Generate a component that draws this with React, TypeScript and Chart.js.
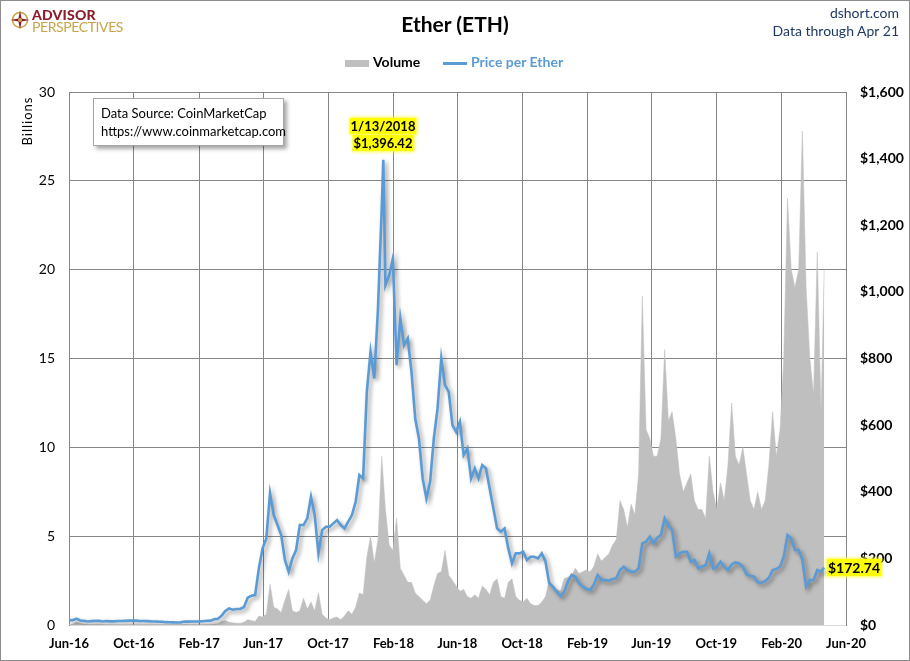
import React, { useEffect, useRef } from "react";
import { Chart, registerables } from "chart.js";

Chart.register(...registerables);

// ---------------- data ----------------
const weekStart = "2016-06-01"; // first weekly observation, one value every 7 days

const priceWeekly = [
  14, 14.5, 19, 13.5, 12.5, 10.5, 11.5, 12.5, 12.8, 10.5,
  11.8, 11, 11, 12, 11.8, 12.5, 13, 13.2, 13, 12,
  12, 11.5, 10.8, 10.5, 10, 9.8, 8.5, 8.2, 8, 7.5,
  8, 10.5, 10, 10.5, 10.6, 10.8, 11.3, 12.8, 13, 17,
  19, 28, 42, 50, 46, 48, 48, 54, 82, 88,
  90, 170, 230, 260, 395, 330, 300, 270, 195, 160,
  200, 225, 300, 300, 320, 385, 330, 215, 285, 295,
  295, 305, 315, 300, 290, 310, 330, 370, 450, 440,
  700, 820, 740, 950, 1250, 1020, 1050, 1100, 780, 920,
  840, 860, 760, 620, 560, 440, 380, 430, 560, 650,
  800, 720, 700, 600, 580, 610, 510, 530, 440, 470,
  440, 480, 470, 410, 350, 290, 280, 290, 230, 185,
  215, 215, 220, 195, 205, 205, 200, 215, 190, 125,
  115, 100, 87, 100, 130, 150, 145, 125, 115, 108,
  105, 122, 150, 135, 135, 133, 138, 140, 165, 175,
  165, 160, 160, 170, 245, 250, 265, 245, 262, 270,
  320, 300, 285, 205, 215, 220, 220, 190, 195, 170,
  175, 180, 215, 170, 175, 190, 175, 165, 182, 188,
  185, 175, 152, 148, 145, 128, 127, 132, 142, 165,
  168, 175, 205, 270, 260, 225, 225, 195, 115, 135,
  135, 165, 160,
];

const volumeWeekly = [
  0.05, 0.06, 0.15, 0.1, 0.05, 0.04, 0.03, 0.03, 0.04, 0.03,
  0.02, 0.02, 0.02, 0.02, 0.02, 0.02, 0.02, 0.02, 0.02, 0.02,
  0.02, 0.02, 0.02, 0.02, 0.02, 0.02, 0.02, 0.02, 0.02, 0.02,
  0.02, 0.03, 0.02, 0.02, 0.02, 0.02, 0.02, 0.03, 0.03, 0.05,
  0.08, 0.2, 0.25, 0.15, 0.12, 0.1, 0.1, 0.15, 0.3, 0.25,
  0.2, 0.5, 0.45, 0.6, 2.3, 1.0, 0.9, 0.7, 1.4, 2.0,
  0.8, 0.7, 0.8, 1.5, 0.9, 1.3, 0.8, 1.8, 0.6, 0.4,
  0.3, 0.4, 0.45, 0.3, 0.5, 0.8, 0.6, 1.0, 1.8, 1.7,
  3.8, 5.0, 3.5, 4.8, 9.5, 6.5, 4.5, 4.2, 6.0, 3.2,
  2.8, 2.4, 2.4, 1.8, 1.6, 1.4, 1.2, 1.4, 2.2, 2.9,
  3.0, 4.2, 2.8, 2.5, 2.2, 1.9, 2.0, 1.6, 1.5, 1.7,
  1.5, 2.2, 2.0, 1.7, 2.4, 2.6, 1.6, 1.5, 2.4, 2.6,
  1.6, 1.4, 1.3, 1.5, 1.2, 1.1, 1.1, 1.3, 1.6, 2.5,
  2.2, 2.0, 1.9, 2.6, 2.7, 2.8, 3.2, 2.9, 3.0, 3.1,
  3.0, 3.3, 4.0, 3.6, 3.8, 4.0, 4.5, 4.8, 7.0, 6.5,
  5.5, 6.8, 6.2, 8.5, 18.5, 11, 10.5, 9.5, 9.5, 10.5,
  15.5, 11.5, 12, 10.5, 8.5, 7.5, 8.0, 8.5, 7.0, 6.5,
  6.5, 6.0, 9.5, 7.5, 6.5, 8.0, 7.0, 9.0, 12.5, 9.5,
  9.0, 10.0, 8.5, 7.0, 6.5, 7.5, 6.5, 7.0, 9.0, 12,
  9.5, 11, 15, 24, 20, 19, 20, 27.8, 19, 15,
  13, 21, 12,
];

const peakDate = "2018-01-13";
const peakPrice = 1396.42;
const lastDate = "2020-04-21";
const lastPrice = 172.74;
const lastVolume = 20;

const xTickDates = [
  "2016-06-01", "2016-10-01", "2017-02-01", "2017-06-01", "2017-10-01",
  "2018-02-01", "2018-06-01", "2018-10-01", "2019-02-01", "2019-06-01",
  "2019-10-01", "2020-02-01", "2020-06-01",
];
const xTickLabels = [
  "Jun-16", "Oct-16", "Feb-17", "Jun-17", "Oct-17", "Feb-18", "Jun-18",
  "Oct-18", "Feb-19", "Jun-19", "Oct-19", "Feb-20", "Jun-20",
];
const volumeTicks = [0, 5, 10, 15, 20, 25, 30];
const priceTicks = [0, 200, 400, 600, 800, 1000, 1200, 1400, 1600];

// ---------------- helpers ----------------
const ORIGIN = Date.parse(xTickDates[0]);
const dayOf = (iso: string) => Math.round((Date.parse(iso) - ORIGIN) / 86400000);
const FONT = "Lato, 'Open Sans', sans-serif";

function weeklyPoints(values: number[]) {
  const s = dayOf(weekStart);
  return values.map((v, i) => ({ x: s + i * 7, y: v }));
}

const pricePoints = [
  ...weeklyPoints(priceWeekly),
  { x: dayOf(peakDate), y: peakPrice },
  { x: dayOf(lastDate), y: lastPrice },
].sort((a, b) => a.x - b.x);

const volumePoints = [
  ...weeklyPoints(volumeWeekly),
  { x: dayOf(lastDate), y: lastVolume },
].sort((a, b) => a.x - b.x);

const tickLabelByDay: Record<number, string> = {};
xTickDates.forEach((d, i) => (tickLabelByDay[dayOf(d)] = xTickLabels[i]));

const shadowPlugin = {
  id: "lineShadow",
  beforeDatasetDraw(chart: any, args: any) {
    if (args.index === 0) {
      const c = chart.ctx;
      c.save();
      c.shadowColor = "rgba(0,0,0,0.4)";
      c.shadowBlur = 4;
      c.shadowOffsetX = 2.5;
      c.shadowOffsetY = 2.5;
    }
  },
  afterDatasetDraw(chart: any, args: any) {
    if (args.index === 0) chart.ctx.restore();
  },
};

export default function App() {
  const ref = useRef<HTMLCanvasElement>(null);

  useEffect(() => {
    document.body.style.margin = "0";
    const chart = new Chart(ref.current as HTMLCanvasElement, {
      type: "line",
      data: {
        datasets: [
          {
            label: "Price per Ether",
            data: pricePoints,
            yAxisID: "y1",
            borderColor: "#5B9BD5",
            borderWidth: 2.6,
            pointRadius: 0,
            tension: 0,
            fill: false,
            order: 0,
          },
          {
            label: "Volume",
            data: volumePoints,
            yAxisID: "y",
            backgroundColor: "#BFBFBF",
            borderColor: "#BFBFBF",
            borderWidth: 0.5,
            pointRadius: 0,
            tension: 0,
            fill: "origin",
            order: 1,
          },
        ] as any,
      },
      options: {
        animation: false,
        responsive: false,
        layout: { padding: { top: 92, left: 0, right: 0, bottom: 0 } },
        plugins: { legend: { display: false }, tooltip: { enabled: false } },
        scales: {
          x: {
            type: "linear",
            min: dayOf(xTickDates[0]),
            max: dayOf(xTickDates[xTickDates.length - 1]),
            afterBuildTicks: (s: any) => {
              s.ticks = xTickDates.map((d) => ({ value: dayOf(d) }));
            },
            afterFit: (s: any) => {
              s.height = 36;
            },
            ticks: {
              autoSkip: false,
              maxRotation: 0,
              padding: 11,
              color: "#000",
              font: { family: FONT, size: 13, weight: "bold" },
              callback: (v: any) => tickLabelByDay[v] ?? "",
            },
            grid: { color: "#868686", drawTicks: false },
            border: { color: "#D9D9D9" },
          },
          y: {
            position: "left",
            min: 0,
            max: 30,
            afterBuildTicks: (s: any) => {
              s.ticks = volumeTicks.map((v) => ({ value: v }));
            },
            afterFit: (s: any) => {
              s.width = 69;
            },
            ticks: {
              padding: 14,
              color: "#000",
              font: { family: FONT, size: 14 },
            },
            grid: {
              color: (c: any) => (c.tick && c.tick.value === 0 ? "#D9D9D9" : "#868686"),
              drawTicks: false,
            },
            border: { color: "#868686" },
          },
          y1: {
            position: "right",
            min: 0,
            max: 1600,
            afterBuildTicks: (s: any) => {
              s.ticks = priceTicks.map((v) => ({ value: v }));
            },
            afterFit: (s: any) => {
              s.width = 64;
            },
            ticks: {
              padding: 14,
              color: "#000",
              font: { family: FONT, size: 14, weight: "bold" },
              callback: (v: any) => "$" + Number(v).toLocaleString("en-US"),
            },
            grid: { display: false, drawTicks: false },
            border: { color: "#868686" },
          },
        },
      } as any,
      plugins: [shadowPlugin],
    });
    return () => chart.destroy();
  }, []);

  const abs = (s: React.CSSProperties): React.CSSProperties => ({ position: "absolute", whiteSpace: "nowrap", ...s });
  const yellow: React.CSSProperties = {
    background: "#FFFF00",
    boxShadow: "0 0 3px 1px #FFFF40",
    padding: "0 1px",
  };

  return (
    <div style={{ position: "relative", width: 910, height: 661, background: "#fff", fontFamily: FONT, overflow: "hidden" }}>
      <canvas ref={ref} width={910} height={661} style={{ position: "absolute", left: 0, top: 0 }} />

      {/* logo */}
      <svg style={{ position: "absolute", left: 10, top: 10 }} width={20} height={20} viewBox="0 0 20 20">
        <circle cx={10} cy={10} r={7.5} fill="none" stroke="#C9A448" strokeWidth={1.6} />
        <polygon points="10,0.5 11.6,8.4 19.5,10 11.6,11.6 10,19.5 8.4,11.6 0.5,10 8.4,8.4" fill="#8B1C2C" />
        <circle cx={10} cy={10} r={2} fill="#C9A448" />
      </svg>
      <div style={abs({ left: 32, top: 6, fontSize: 14, fontWeight: 900, color: "#8B1C2C", letterSpacing: 0.2 })}>ADVISOR</div>
      <div style={abs({ left: 32, top: 18, fontSize: 14, fontWeight: 400, color: "#C9A448", letterSpacing: -0.4 })}>PERSPECTIVES</div>

      {/* title */}
      <div style={abs({ left: 0, width: 910, top: 11, textAlign: "center", fontSize: 21, fontWeight: 700, color: "#000" })}>Ether (ETH)</div>
      <div style={abs({ right: 11, top: 4, fontSize: 14, color: "#1F3864", textAlign: "right" })}>dshort.com</div>
      <div style={abs({ right: 11, top: 22, fontSize: 14, color: "#1F3864", textAlign: "right" })}>Data through Apr 21</div>

      {/* legend */}
      <div style={abs({ left: 345, top: 60, width: 24, height: 7, background: "#BFBFBF" })} />
      <div style={abs({ left: 373, top: 53, fontSize: 14, fontWeight: 700, color: "#000" })}>Volume</div>
      <div style={abs({ left: 443, top: 62, width: 24, height: 2.5, background: "#5B9BD5" })} />
      <div style={abs({ left: 471, top: 53, fontSize: 14, fontWeight: 700, color: "#5B9BD5" })}>Price per Ether</div>

      {/* axis title */}
      <div style={abs({ left: 27, top: 121, transform: "translate(-50%,-50%) rotate(-90deg)", fontSize: 13, letterSpacing: 1, color: "#000" })}>Billions</div>

      {/* data source box */}
      <div
        style={abs({
          left: 93,
          top: 98,
          width: 191,
          height: 48,
          background: "#fff",
          border: "1px solid #A6A6A6",
          boxShadow: "3px 3px 4px rgba(0,0,0,0.35)",
          boxSizing: "border-box",
        })}
      >
        <div style={abs({ left: 7, top: 6, fontSize: 13, color: "#000" })}>Data Source: CoinMarketCap</div>
        <div style={abs({ left: 7, top: 24, fontSize: 13, color: "#000" })}>https://www.coinmarketcap.com</div>
      </div>

      {/* annotations */}
      <div style={abs({ left: 383, top: 118, transform: "translateX(-50%)", fontSize: 13, fontWeight: 700, lineHeight: "16px" })}>
        <span style={yellow}>1/13/2018</span>
      </div>
      <div style={abs({ left: 383, top: 135, transform: "translateX(-50%)", fontSize: 13, fontWeight: 700, lineHeight: "16px" })}>
        <span style={yellow}>$1,396.42</span>
      </div>
      <div style={abs({ left: 827, top: 559, fontSize: 14, fontWeight: 700, lineHeight: "18px" })}>
        <span style={yellow}>$172.74</span>
      </div>

      {/* outer border */}
      <div style={abs({ left: 0, top: 0, width: 910, height: 661, boxSizing: "border-box", border: "1px solid #8C8C8C", pointerEvents: "none" })} />
    </div>
  );
}
